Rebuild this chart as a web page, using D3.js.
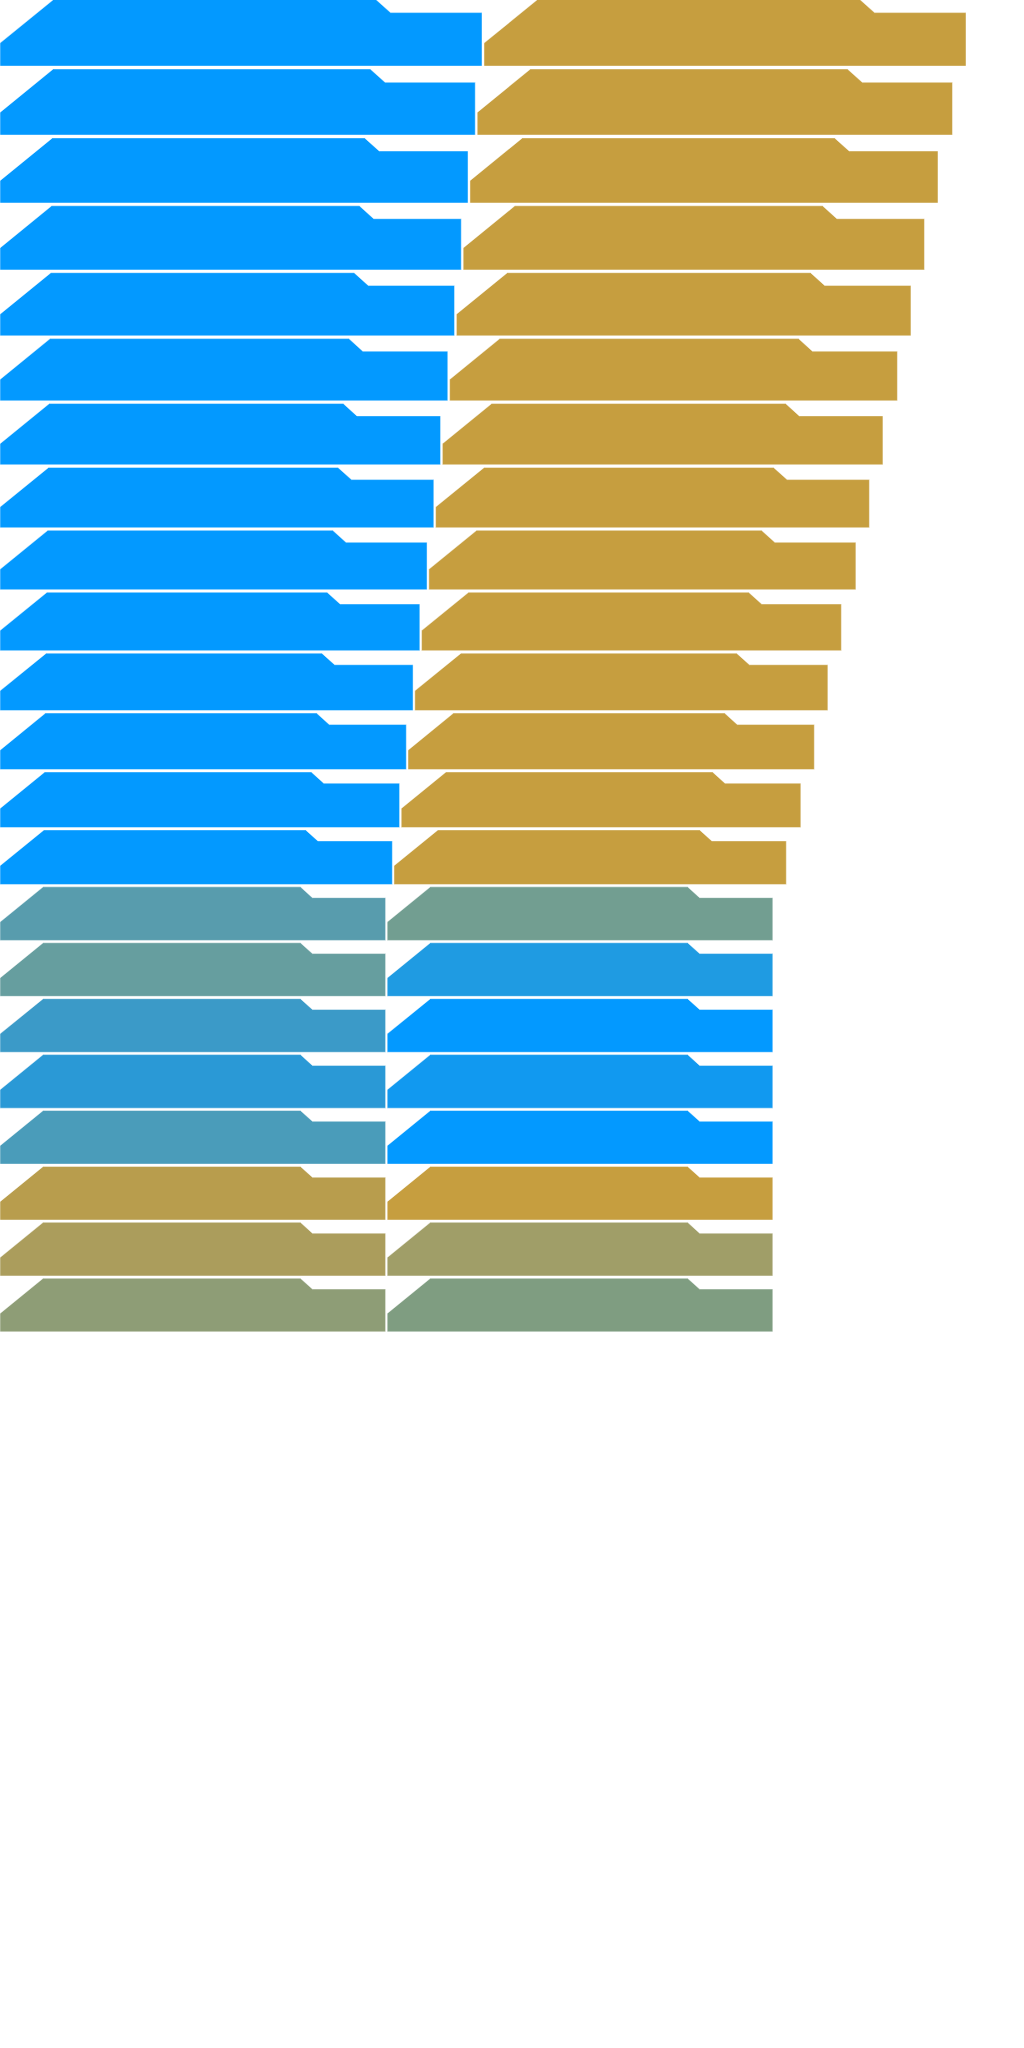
<!DOCTYPE html>
<html><head><meta charset="utf-8">
<script src="https://cdn.jsdelivr.net/npm/d3@7"></script>
<style>html,body{margin:0;padding:0;background:#fff}svg{display:block}</style>
</head><body>
<svg id="chart" width="1024" height="2048"></svg>
<script>
// ---- data ----
const rows = ["1","2","3","4","5","6","7","8","9","10","11","12","13","14","15","16","17","18","19","20","21","22"];
const values = [100, 98.6, 97.1, 95.7, 94.3, 92.9, 91.4, 90.0, 88.6, 87.1, 85.7, 84.3, 82.9, 81.4, 80, 80, 80, 80, 80, 80, 80, 80];
const leftColors = ["#0399FF","#0399FF","#0399FF","#0399FF","#0399FF","#0399FF","#0399FF","#0399FF","#0399FF","#0399FF","#0399FF","#0399FF","#0399FF","#0399FF",
  "#589CAD","#669E9F","#3B9AC8","#2A99D6","#4A9CBA","#B89D4D","#AB9D5C","#8E9D76"];
const rightColors = ["#C69E3F","#C69E3F","#C69E3F","#C69E3F","#C69E3F","#C69E3F","#C69E3F","#C69E3F","#C69E3F","#C69E3F","#C69E3F","#C69E3F","#C69E3F","#C69E3F",
  "#729E91","#1F9BE2","#0399FF","#1199F0","#0399FF","#C69E3F","#A09E68","#7F9D81"];

// ---- layout ----
const svg = d3.select("#chart");
const k = d3.scaleLinear().domain([0, 100]).range([0, 1]);
const pitch = 69.9, shapeW = 482, shapeH = 67, offsetRight = 484, top0 = -0.9;

// folder-tab shape in unit coordinates (k = 1)
const sx = d3.scaleLinear().domain([0, 1]).range([0, shapeW]);
const sy = d3.scaleLinear().domain([0, 1]).range([0, shapeH]);
const shapePts = [[0,1],[0,44/67],[54/482,0],[375.5/482,0],[390.5/482,13.5/67],[1,13.5/67],[1,1]];
const line = d3.line().x(d => sx(d[0])).y(d => sy(d[1])).curve(d3.curveLinearClosed);

const data = rows.map((r, i) => ({ r, v: values[i], l: leftColors[i], rc: rightColors[i] }));
let acc = top0;
data.forEach(d => { d.y = acc; acc += pitch * k(d.v); });

const g = svg.selectAll("g.row").data(data).join("g")
  .attr("class", "row")
  .attr("transform", d => `translate(0,${d.y}) scale(${k(d.v)})`);

g.append("path").attr("d", line(shapePts))
  .attr("fill", d => d.l)
  .attr("stroke", "rgba(255,255,255,0.45)").attr("stroke-width", 1)
  .attr("vector-effect", "non-scaling-stroke");

g.append("path").attr("d", line(shapePts))
  .attr("transform", `translate(${offsetRight},0)`)
  .attr("fill", d => d.rc)
  .attr("stroke", "rgba(255,255,255,0.45)").attr("stroke-width", 1)
  .attr("vector-effect", "non-scaling-stroke");
</script>
</body></html>
